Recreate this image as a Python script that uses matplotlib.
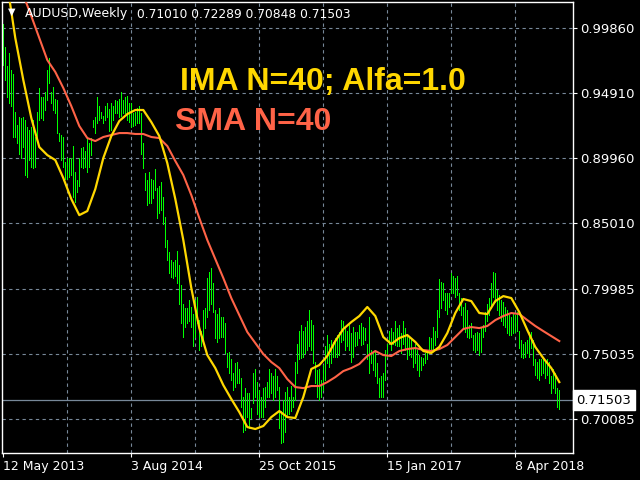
import numpy as np
import pandas as pd
import matplotlib
matplotlib.use('Agg')
import matplotlib.pyplot as plt
import matplotlib.transforms as mtransforms

# weekly AUDUSD bars, first bar is the week of 12 May 2013
start = pd.Timestamp('2013-05-12')

high = [
    1.002, 0.984, 0.970, 0.980, 0.967, 0.964, 0.935, 0.925, 0.931, 0.930,
    0.931, 0.929, 0.923, 0.921, 0.923, 0.929, 0.916, 0.935, 0.953, 0.946,
    0.946, 0.950, 0.967, 0.976, 0.950, 0.954, 0.945, 0.944, 0.919, 0.917,
    0.916, 0.897, 0.900, 0.900, 0.900, 0.909, 0.889, 0.883, 0.900, 0.907,
    0.908, 0.905, 0.915, 0.911, 0.915, 0.929, 0.931, 0.946, 0.939, 0.935,
    0.932, 0.939, 0.942, 0.937, 0.942, 0.939, 0.944, 0.943, 0.945, 0.950,
    0.944, 0.946, 0.947, 0.942, 0.942, 0.934, 0.935, 0.938, 0.939, 0.934,
    0.911, 0.888, 0.883, 0.889, 0.884, 0.883, 0.891, 0.877, 0.878, 0.881,
    0.870, 0.855, 0.837, 0.828, 0.822, 0.820, 0.822, 0.829, 0.818, 0.803,
    0.788, 0.785, 0.785, 0.791, 0.786, 0.781, 0.791, 0.794, 0.776, 0.768,
    0.784, 0.785, 0.808, 0.813, 0.816, 0.804, 0.784, 0.781, 0.785, 0.778,
    0.778, 0.774, 0.751, 0.752, 0.746, 0.736, 0.743, 0.744, 0.739, 0.732,
    0.717, 0.724, 0.720, 0.720, 0.709, 0.736, 0.739, 0.729, 0.723, 0.717,
    0.724, 0.725, 0.729, 0.739, 0.736, 0.733, 0.739, 0.733, 0.725, 0.707,
    0.715, 0.721, 0.725, 0.717, 0.726, 0.717, 0.744, 0.758, 0.768, 0.772,
    0.768, 0.771, 0.775, 0.784, 0.776, 0.772, 0.744, 0.738, 0.739, 0.730,
    0.742, 0.756, 0.765, 0.758, 0.761, 0.759, 0.762, 0.765, 0.767, 0.776,
    0.775, 0.770, 0.768, 0.772, 0.766, 0.771, 0.767, 0.767, 0.772, 0.774,
    0.771, 0.770, 0.758, 0.778, 0.753, 0.751, 0.752, 0.743, 0.732, 0.733,
    0.736, 0.753, 0.758, 0.768, 0.770, 0.767, 0.775, 0.770, 0.772, 0.766,
    0.775, 0.770, 0.765, 0.762, 0.761, 0.755, 0.758, 0.753, 0.749, 0.748,
    0.747, 0.751, 0.753, 0.763, 0.762, 0.771, 0.768, 0.784, 0.807, 0.805,
    0.804, 0.797, 0.797, 0.797, 0.812, 0.810, 0.808, 0.810, 0.797, 0.793,
    0.786, 0.789, 0.784, 0.772, 0.774, 0.765, 0.766, 0.767, 0.766, 0.771,
    0.772, 0.782, 0.788, 0.793, 0.804, 0.813, 0.812, 0.799, 0.795, 0.791,
    0.790, 0.786, 0.784, 0.780, 0.778, 0.781, 0.780, 0.782, 0.768, 0.761,
    0.758, 0.759, 0.761, 0.767, 0.767, 0.761, 0.746, 0.744, 0.746, 0.746,
    0.748, 0.744, 0.746, 0.744, 0.733, 0.739, 0.736, 0.724, 0.72289,
]

low = [
    0.971, 0.959, 0.946, 0.942, 0.939, 0.916, 0.916, 0.911, 0.903, 0.900,
    0.908, 0.887, 0.885, 0.898, 0.893, 0.892, 0.893, 0.916, 0.929, 0.930,
    0.929, 0.936, 0.944, 0.957, 0.942, 0.936, 0.934, 0.919, 0.913, 0.898,
    0.893, 0.884, 0.884, 0.885, 0.887, 0.870, 0.866, 0.874, 0.878, 0.893,
    0.892, 0.893, 0.889, 0.893, 0.902, 0.923, 0.919, 0.926, 0.929, 0.930,
    0.926, 0.929, 0.931, 0.920, 0.921, 0.929, 0.934, 0.934, 0.931, 0.932,
    0.934, 0.934, 0.929, 0.927, 0.923, 0.924, 0.925, 0.926, 0.926, 0.903,
    0.892, 0.875, 0.864, 0.865, 0.865, 0.869, 0.875, 0.854, 0.858, 0.860,
    0.849, 0.832, 0.822, 0.812, 0.809, 0.808, 0.810, 0.804, 0.788, 0.774,
    0.763, 0.771, 0.774, 0.775, 0.771, 0.756, 0.763, 0.774, 0.753, 0.756,
    0.761, 0.770, 0.778, 0.784, 0.788, 0.782, 0.762, 0.759, 0.762, 0.763,
    0.763, 0.751, 0.740, 0.736, 0.730, 0.723, 0.725, 0.728, 0.728, 0.710,
    0.691, 0.692, 0.702, 0.694, 0.701, 0.713, 0.717, 0.704, 0.702, 0.702,
    0.702, 0.710, 0.717, 0.717, 0.720, 0.715, 0.717, 0.723, 0.694, 0.682,
    0.683, 0.691, 0.702, 0.704, 0.707, 0.710, 0.715, 0.736, 0.746, 0.747,
    0.748, 0.751, 0.753, 0.756, 0.753, 0.743, 0.728, 0.717, 0.715, 0.717,
    0.723, 0.730, 0.743, 0.740, 0.743, 0.748, 0.748, 0.748, 0.749, 0.759,
    0.761, 0.753, 0.756, 0.753, 0.744, 0.748, 0.756, 0.757, 0.762, 0.757,
    0.758, 0.761, 0.746, 0.736, 0.743, 0.738, 0.733, 0.728, 0.717, 0.717,
    0.717, 0.730, 0.748, 0.758, 0.753, 0.758, 0.757, 0.756, 0.756, 0.751,
    0.758, 0.753, 0.746, 0.749, 0.748, 0.740, 0.743, 0.738, 0.733, 0.738,
    0.742, 0.743, 0.746, 0.751, 0.752, 0.753, 0.757, 0.763, 0.778, 0.785,
    0.791, 0.784, 0.781, 0.786, 0.797, 0.797, 0.794, 0.795, 0.784, 0.780,
    0.770, 0.767, 0.763, 0.762, 0.763, 0.753, 0.752, 0.753, 0.749, 0.752,
    0.763, 0.768, 0.775, 0.780, 0.785, 0.794, 0.790, 0.784, 0.780, 0.775,
    0.772, 0.771, 0.766, 0.765, 0.765, 0.766, 0.767, 0.768, 0.755, 0.748,
    0.747, 0.748, 0.751, 0.748, 0.755, 0.742, 0.734, 0.732, 0.730, 0.734,
    0.736, 0.732, 0.734, 0.728, 0.720, 0.724, 0.720, 0.710, 0.70848,
]

# indicator values, read every 4th week starting at week 2
sma40 = [
    1.0507, 1.0393, 1.0240, 1.0080, 0.9912, 0.9744, 0.9653, 0.9531, 0.9393, 0.9241,
    0.9149, 0.9126, 0.9157, 0.9172, 0.9187, 0.9187, 0.9180, 0.9180, 0.9157, 0.9149,
    0.9088, 0.8974, 0.8867, 0.8714, 0.8539, 0.8371, 0.8226, 0.8081, 0.7928, 0.7798,
    0.7669, 0.7585, 0.7501, 0.7440, 0.7394, 0.7310, 0.7249, 0.7241, 0.7257, 0.7257,
    0.7287, 0.7325, 0.7371, 0.7394, 0.7425, 0.7486, 0.7524, 0.7493, 0.7486, 0.7524,
    0.7539, 0.7547, 0.7532, 0.7524, 0.7539, 0.7570, 0.7631, 0.7692, 0.7707, 0.7699,
    0.7715, 0.7760, 0.7791, 0.7814, 0.7806, 0.7760, 0.7715, 0.7676, 0.7638, 0.7600,
]
ima40 = [
    1.0316, 0.9912, 0.9592, 0.9302, 0.9080, 0.9019, 0.8981, 0.8844, 0.8684, 0.8561,
    0.8592, 0.8760, 0.8996, 0.9164, 0.9279, 0.9332, 0.9363, 0.9363, 0.9271, 0.9164,
    0.8958, 0.8684, 0.8371, 0.8005, 0.7699, 0.7493, 0.7394, 0.7264, 0.7158, 0.7058,
    0.6944, 0.6929, 0.6952, 0.7020, 0.7066, 0.7020, 0.7013, 0.7173, 0.7387, 0.7417,
    0.7486, 0.7600, 0.7692, 0.7745, 0.7791, 0.7860, 0.7791, 0.7631, 0.7577, 0.7623,
    0.7646, 0.7593, 0.7524, 0.7509, 0.7555, 0.7661, 0.7814, 0.7921, 0.7905, 0.7814,
    0.7806, 0.7905, 0.7943, 0.7928, 0.7821, 0.7684, 0.7555, 0.7470, 0.7394, 0.7287,
]

price_levels = [0.99860, 0.94910, 0.89960, 0.85010, 0.79985, 0.75035, 0.70085]
date_labels = ['12 May 2013', '3 Aug 2014', '25 Oct 2015', '15 Jan 2017', '8 Apr 2018']
last_bar = [0.71010, 0.72289, 0.70848, 0.71503]  # open high low close

weeks = np.arange(len(high))
line_weeks = np.arange(2, len(high), 4)
label_weeks = [(pd.Timestamp(d) - start).days / 7 for d in date_labels]

grid_col = '#778899'
fig = plt.figure(figsize=(6.4, 4.8), dpi=100, facecolor='black')
ax = fig.add_axes([2 / 640, 1 - 453 / 480, 571 / 640, 451 / 480])
ax.set_facecolor('black')
ax.set_xlim(-0.65, 284.85)
ax.set_ylim(0.6746, 1.0187)

for lvl in price_levels:
    ax.axhline(lvl, color=grid_col, lw=0.8, ls=(0, (3, 3)), zorder=1)
for w in range(32, len(high), 32):
    ax.axvline(w, color=grid_col, lw=0.8, ls=(0, (3, 3)), zorder=1)
ax.axhline(last_bar[3], color=grid_col, lw=0.9, zorder=1)

ax.vlines(weeks, low, high, colors='#00ff00', lw=0.72, antialiased=False, zorder=2)
ax.plot(line_weeks, sma40, color='#ff6347', lw=1.5, zorder=3)
ax.plot(line_weeks, ima40, color='#ffd700', lw=1.6, zorder=4)

for s in ax.spines.values():
    s.set_color('white')
    s.set_linewidth(1.0)

ax.yaxis.tick_right()
ax.set_yticks(price_levels)
ax.set_yticklabels([f'{v:.5f}' for v in price_levels])
ax.tick_params(axis='y', colors='white', length=3, width=0.8, labelsize=9.5, pad=2)
ax.set_xticks(label_weeks)
ax.set_xticklabels(date_labels)
for lab in ax.get_xticklabels():
    lab.set_horizontalalignment('left')
ax.tick_params(axis='x', colors='white', length=3, width=0.8, labelsize=9, pad=2)

trans = mtransforms.blended_transform_factory(ax.transAxes, ax.transData)
ax.text(1.006, last_bar[3], f'{last_bar[3]:.5f}', transform=trans, ha='left', va='center',
        color='black', fontsize=9.5,
        bbox=dict(boxstyle='square,pad=0.25', fc='white', ec='white'))

fig.text(12 / 640, 1 - 12 / 480, '\u25bc', color='white', fontsize=7, ha='center', va='center')
fig.text(25 / 640, 1 - 14 / 480, 'AUDUSD,Weekly', color='white', fontsize=9, va='center')
fig.text(137 / 640, 1 - 14 / 480, ' '.join(f'{v:.5f}' for v in last_bar),
         color='white', fontsize=8.8, va='center')

fig.text(180 / 640, 1 - 90 / 480, 'IMA N=40; Alfa=1.0', color='#ffd700', fontsize=23,
         fontweight='bold', family='Liberation Sans', va='baseline')
fig.text(175 / 640, 1 - 130 / 480, 'SMA N=40', color='#ff6347', fontsize=23,
         fontweight='bold', family='Liberation Sans', va='baseline')

fig.savefig('out.png', dpi=100, facecolor='black')
